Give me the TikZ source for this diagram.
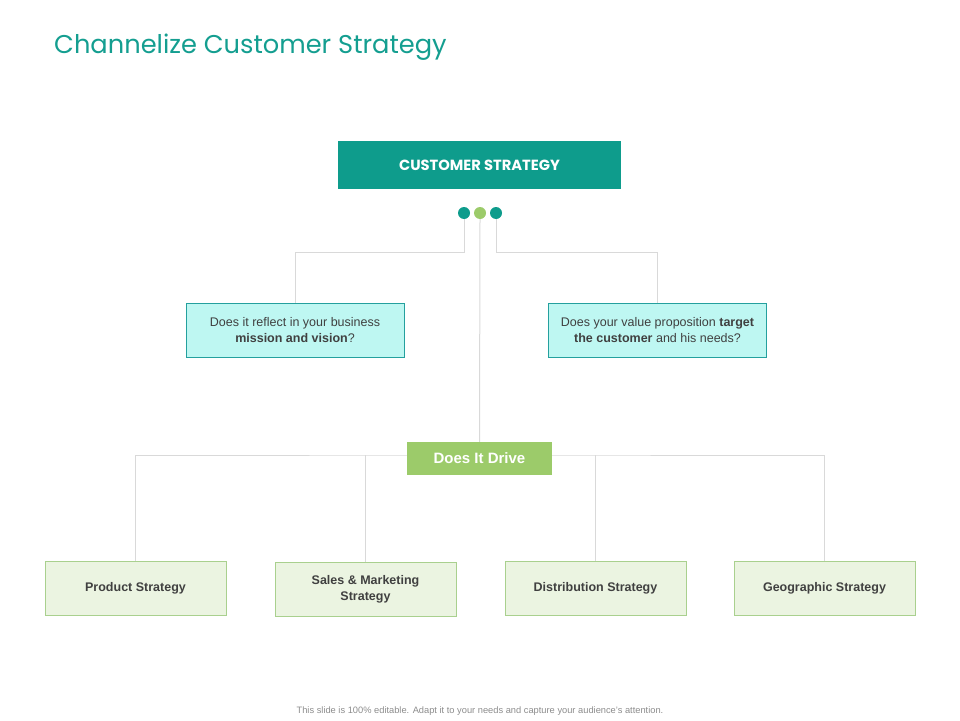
\documentclass[tikz,border=0pt]{standalone}
\usepackage{fontspec}
\setmainfont{Liberation Sans}
\newfontfamily\titlefont{Poppins}
\usetikzlibrary{
	calc,
	positioning,
	backgrounds
}
\definecolor{TealMain}{HTML}{0E9C8C}
\definecolor{TealTitle}{HTML}{149E90}
\definecolor{CyanFill}{HTML}{BEF7F2}
\definecolor{CyanLine}{HTML}{24A09E}
\definecolor{GreenMain}{HTML}{9CCB6A}
\definecolor{GreenFill}{HTML}{EBF4E1}
\definecolor{GreenLine}{HTML}{A9D08E}
\definecolor{LinkGrey}{HTML}{D9D9D9}
\definecolor{TextGrey}{HTML}{404040}
\tikzset{
	Head-Node/.style={rectangle,fill=TealMain,text=white,font=\titlefont\bfseries\fontsize{14.7}{16}\selectfont,
		minimum width=283pt,minimum height=48pt,inner sep=0pt},
	Ask-Node/.style={rectangle,fill=CyanFill,draw=CyanLine,semithick,align=center,text=TextGrey,
		font=\fontsize{12.5}{16}\selectfont,minimum width=218pt,minimum height=54pt,inner sep=0pt},
	Drive-Node/.style={rectangle,fill=GreenMain,text=white,font=\bfseries\fontsize{15}{16}\selectfont,
		minimum width=145pt,minimum height=33pt,inner sep=0pt},
	Leaf-Node/.style={rectangle,fill=GreenFill,draw=GreenLine,semithick,align=center,text=TextGrey,
		font=\bfseries\fontsize{12.5}{16}\selectfont,minimum width=181pt,minimum height=54pt,inner sep=0pt},
	Dot/.style={circle,inner sep=0pt,minimum size=12pt},
	Link/.style={draw=LinkGrey,line width=1pt}
}

\begin{document}
\begin{tikzpicture}[x=1pt,y=-1pt]
	\useasboundingbox (0,0) rectangle (960,720);
	% title
	\node[anchor=west,text=TealTitle,font=\titlefont\fontsize{25.7}{30}\selectfont,inner sep=0pt] (title) at (54,47) {Channelize Customer Strategy};
	% main box and dots
	\node[Head-Node] (head) at (479.5,165) {CUSTOMER STRATEGY};
	\node[Dot,fill=TealMain] (dotL) at (464,213) {};
	\node[Dot,fill=GreenMain] (dotM) at (480,213) {};
	\node[Dot,fill=TealMain] (dotR) at (496,213) {};
	% questions
	\node[Ask-Node] (askL) at (295,330) {Does it reflect in your business\\\textbf{mission and vision}?};
	\node[Ask-Node] (askR) at (657.5,330) {Does your value proposition \textbf{target}\\\textbf{the customer} and his needs?};
	\node[Drive-Node] (drive) at (479.5,458.5) {Does It Drive};
	% strategies
	\node[Leaf-Node] (prod) at (135.5,588) {Product Strategy};
	\node[Leaf-Node] (sales) at (365.5,589) {Sales \& Marketing\\Strategy};
	\node[Leaf-Node] (dist) at (595.5,588) {Distribution Strategy};
	\node[Leaf-Node] (geo) at (824.5,588) {Geographic Strategy};
	\coordinate (bus) at (480,455);
	% connectors
	\begin{scope}[on background layer]
		\draw[Link] (dotL.south) -- ++(0,33) -| (askL.north);
		\draw[Link] (dotR.south) -- ++(0,33) -| (askR.north);
		\draw[Link] (dotM.south) -- (drive.north);
		\draw[Link] (prod.north) |- (bus) -| (geo.north);
		\draw[Link] (sales.north) -- (sales.north |- bus);
		\draw[Link] (dist.north) -- (dist.north |- bus);
	\end{scope}
	% footer
	\node[text=black!45,font=\fontsize{9.3}{11}\selectfont] (foot) at (480,711) {This slide is 100\% editable. Adapt it to your needs and capture your audience's attention.};
\end{tikzpicture}
\end{document}
